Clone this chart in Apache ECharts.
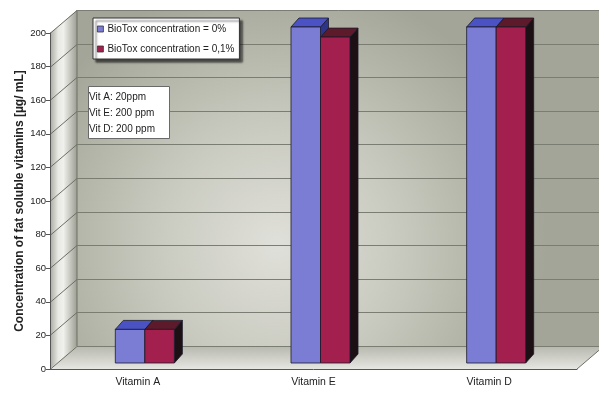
<!DOCTYPE html>
<html>
<head>
<meta charset="utf-8">
<script src="https://cdn.jsdelivr.net/npm/echarts@6/dist/echarts.min.js"></script>
<style>
  html, body { margin: 0; padding: 0; background: #fff; }
  #chart { width: 599px; height: 394px; }
</style>
</head>
<body>
<div id="chart"></div>
<script>
  // data
  const categories = ['Vitamin A', 'Vitamin E', 'Vitamin D']
  const seriesNames = ['BioTox concentration = 0%', 'BioTox concentration = 0,1%']
  const conc0 = [20, 200, 200]
  const conc01 = [20, 194, 200]
  const yTicks = [0, 20, 40, 60, 80, 100, 120, 140, 160, 180, 200]
  const noteLines = ['Vit A: 20ppm', 'Vit E: 200 ppm', 'Vit D: 200 ppm']

  // 3d look
  const wallDepth = [27, -23]
  const barShift = [7, -6]
  const barDepth = [8, -9]
  const faces = [
    { front: '#7b7dd4', top: '#4b52c4', side: '#2e3488' },
    { front: '#a3204e', top: '#5c1a2a', side: '#1c1014' }
  ]

  function renderWalls (params, api) {
    const cs = params.coordSys
    const L = cs.x, R = cs.x + cs.width, T = cs.y, B = cs.y + cs.height
    const dx = wallDepth[0], dy = wallDepth[1]
    const kids = [
      {
        type: 'polygon',
        shape: { points: [[L, T], [L + dx, T + dy], [L + dx, B + dy], [L, B]] },
        style: {
          fill: new echarts.graphic.LinearGradient(0, 0, 1, 0, [
            { offset: 0, color: '#a8a99f' },
            { offset: 0.3, color: '#e8e8e4' },
            { offset: 0.5, color: '#f0f0ec' },
            { offset: 1, color: '#9c9e92' }
          ])
        }
      },
      {
        type: 'rect',
        shape: { x: L + dx, y: T + dy, width: cs.width, height: cs.height },
        style: {
          fill: new echarts.graphic.RadialGradient(0.38, 0.7, 0.8, [
            { offset: 0, color: '#e0e0da' },
            { offset: 0.5, color: '#c6c7bc' },
            { offset: 1, color: '#a2a597' }
          ])
        }
      },
      {
        type: 'polygon',
        shape: { points: [[L, B], [R, B], [R + dx, B + dy], [L + dx, B + dy]] },
        style: {
          fill: new echarts.graphic.LinearGradient(0, 0, 0, 1, [
            { offset: 0, color: '#b6b7ad' },
            { offset: 1, color: '#e6e6e2' }
          ])
        }
      },
      {
        type: 'line',
        shape: { x1: L + dx, y1: T + dy, x2: L + dx, y2: B + dy },
        style: { stroke: '#6c7064', lineWidth: 1 }
      },
      {
        type: 'line',
        shape: { x1: R, y1: B, x2: R + dx, y2: B + dy },
        style: { stroke: '#6c7064', lineWidth: 1 }
      }
    ]
    yTicks.forEach(v => {
      const y = Math.round(api.coord([0, v])[1]) + 0.5
      kids.push({
        type: 'line',
        shape: { x1: L, y1: y, x2: L + dx, y2: y + dy },
        style: { stroke: '#6c7064', lineWidth: 1 }
      })
      kids.push({
        type: 'line',
        shape: { x1: L + dx, y1: y + dy, x2: R + dx, y2: y + dy },
        style: { stroke: '#7a7e72', lineWidth: 1 }
      })
    })
    return { type: 'group', children: kids }
  }

  function barRenderer (k) {
    return function (params, api) {
      const idx = api.value(0)
      const base = api.coord([idx, 0])
      const top = api.coord([idx, api.value(1)])
      const bw = api.size([1, 0])[0] * 0.168
      const x0 = base[0] + barShift[0] + (k === 0 ? -bw : 0)
      const x1 = x0 + bw
      const yb = base[1] + barShift[1]
      const yt = top[1] + barShift[1]
      const dx = barDepth[0], dy = barDepth[1]
      const c = faces[k]
      const edge = { stroke: '#1a1a2a', lineWidth: 0.8 }
      return {
        type: 'group',
        children: [
          {
            type: 'polygon',
            shape: { points: [[x1, yt], [x1 + dx, yt + dy], [x1 + dx, yb + dy], [x1, yb]] },
            style: Object.assign({ fill: c.side }, edge)
          },
          {
            type: 'polygon',
            shape: { points: [[x0, yt], [x0 + dx, yt + dy], [x1 + dx, yt + dy], [x1, yt]] },
            style: Object.assign({ fill: c.top }, edge)
          },
          {
            type: 'rect',
            shape: { x: x0, y: yt, width: bw, height: yb - yt },
            style: Object.assign({ fill: c.front }, edge)
          }
        ]
      }
    }
  }

  const option = {
    animation: false,
    backgroundColor: '#ffffff',
    textStyle: { fontFamily: 'Liberation Sans, Arial, sans-serif' },
    grid: { left: 50, right: 22, top: 33, bottom: 25 },
    title: {
      text: noteLines.join('\n'),
      left: 88,
      top: 86,
      padding: [3, 15, 2, 1],
      backgroundColor: '#ffffff',
      borderColor: '#6a6a6a',
      borderWidth: 1,
      textStyle: {
        fontSize: 10,
        fontWeight: 'normal',
        color: '#222',
        lineHeight: 16
      }
    },
    legend: {
      data: seriesNames,
      orient: 'vertical',
      left: 93,
      top: 18,
      padding: [6, 5, 5, 4],
      itemGap: 10,
      itemWidth: 6,
      itemHeight: 6,
      icon: 'rect',
      backgroundColor: '#ffffff',
      borderColor: '#333',
      borderWidth: 1,
      shadowColor: 'rgba(0,0,0,0.6)',
      shadowOffsetX: 3,
      shadowOffsetY: 3,
      shadowBlur: 2,
      itemStyle: { borderColor: '#333', borderWidth: 0.8 },
      textStyle: { fontSize: 10, color: '#222', padding: [0, 0, 0, -1] }
    },
    xAxis: {
      type: 'category',
      data: categories,
      axisLine: { lineStyle: { color: '#555' } },
      axisTick: { length: 3, lineStyle: { color: '#555' } },
      axisLabel: { fontSize: 10.5, color: '#222', margin: 8 },
      splitLine: { show: false }
    },
    yAxis: {
      type: 'value',
      min: 0,
      max: 200,
      interval: 20,
      name: 'Concentration of fat soluble vitamins [µg/ mL]',
      nameLocation: 'middle',
      nameGap: 24,
      nameMoveOverlap: false,
      nameTextStyle: { fontSize: 12, fontWeight: 'bold', color: '#222' },
      axisLine: { show: true, lineStyle: { color: '#555' } },
      axisTick: { show: true, length: 4, lineStyle: { color: '#555' } },
      axisLabel: { fontSize: 9.5, color: '#222', margin: 4 },
      splitLine: { show: false }
    },
    series: [
      {
        name: 'walls',
        type: 'custom',
        silent: true,
        z: 0,
        clip: false,
        renderItem: renderWalls,
        data: [[0, 0]]
      },
      {
        name: seriesNames[0],
        type: 'custom',
        z: 2,
        clip: false,
        itemStyle: { color: faces[0].front },
        renderItem: barRenderer(0),
        data: conc0.map((v, i) => [i, v])
      },
      {
        name: seriesNames[1],
        type: 'custom',
        z: 3,
        clip: false,
        itemStyle: { color: faces[1].front },
        renderItem: barRenderer(1),
        data: conc01.map((v, i) => [i, v])
      }
    ]
  }

  const myChart = echarts.init(document.getElementById('chart'))
  myChart.setOption(option)
</script>
</body>
</html>
